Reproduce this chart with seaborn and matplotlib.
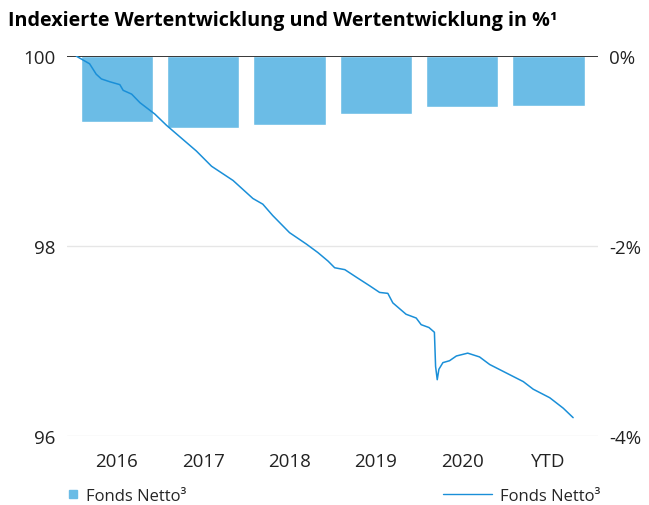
import pandas as pd
import numpy as np
import matplotlib.pyplot as plt
import seaborn as sns
from matplotlib.lines import Line2D

# --- Style ---
sns.set_style("white")
plt.rcParams['font.family'] = ['Open Sans', 'DejaVu Sans']

BAR_COLOR = '#6BBCE6'
LINE_COLOR = '#1A8FD8'
GRID_COLOR = '#E6E6E6'

# --- Data ---
years = ['2016', '2017', '2018', '2019', '2020', 'YTD']
yearly_perf = [-0.69, -0.76, -0.73, -0.61, -0.54, -0.52]

line_dates = [
    '2016-01-12', '2016-03-08', '2016-04-05', '2016-04-27', '2016-06-02',
    '2016-07-14', '2016-07-28', '2016-09-02', '2016-10-07', '2016-12-09',
    '2017-01-28', '2017-04-22', '2017-06-03', '2017-08-06', '2017-11-05',
    '2018-01-28', '2018-03-11', '2018-04-22', '2018-07-02', '2018-09-11',
    '2018-10-30', '2018-12-12', '2019-01-09', '2019-02-21', '2019-04-11',
    '2019-06-06', '2019-07-18', '2019-08-22', '2019-09-12', '2019-11-07',
    '2019-12-20', '2020-01-10', '2020-02-12', '2020-03-06', '2020-03-11',
    '2020-03-18', '2020-03-25', '2020-04-11', '2020-05-09', '2020-06-07',
    '2020-07-25', '2020-09-13', '2020-10-26', '2021-01-05', '2021-03-17',
    '2021-04-28', '2021-07-07', '2021-09-02', '2021-10-14',
]
line_index = [
    100.00, 99.92, 99.81, 99.76, 99.73,
    99.70, 99.64, 99.60, 99.51, 99.39,
    99.27, 99.09, 99.00, 98.84, 98.69,
    98.50, 98.44, 98.32, 98.14, 98.02,
    97.93, 97.84, 97.77, 97.75, 97.67,
    97.58, 97.51, 97.50, 97.40, 97.28,
    97.24, 97.17, 97.14, 97.09, 96.73,
    96.59, 96.70, 96.77, 96.79, 96.84,
    96.87, 96.83, 96.75, 96.66, 96.57,
    96.49, 96.40, 96.29, 96.19,
]

left_ticks = [96, 98, 100]
right_ticks = [-4, -2, 0]
right_labels = ['-4%', '-2%', '0%']


def main():
    df_bars = pd.DataFrame({'year': years, 'perf': yearly_perf})
    df_line = pd.DataFrame({'date': pd.to_datetime(line_dates), 'index': line_index})
    # one calendar year == one bar slot
    start = pd.Timestamp('2016-01-01')
    df_line['pos'] = (df_line['date'] - start).dt.days / 365.25 - 0.5

    fig = plt.figure(figsize=(6.49, 5.06), dpi=100)
    ax = fig.add_axes([0.103, 0.137, 0.818, 0.750])

    # bars on the percentage axis (right)
    for y in right_ticks[:-1]:
        ax.axhline(y, color=GRID_COLOR, lw=1, zorder=0)
    sns.barplot(data=df_bars, x='year', y='perf', color=BAR_COLOR,
                saturation=1, width=0.84, ax=ax, zorder=2)
    ax.axhline(0, color='black', lw=1.1, zorder=3)
    ax.set_ylim(-4, 0)
    ax.set_xlabel('')
    ax.set_ylabel('')

    # indexed line on the left axis
    ax2 = ax.twinx()
    sns.lineplot(data=df_line, x='pos', y='index', ax=ax2,
                 color=LINE_COLOR, lw=1.1)
    ax2.yaxis.tick_left()
    ax2.set_ylim(96, 100)
    ax2.set_yticks(left_ticks)
    ax2.set_xlabel('')
    ax2.set_ylabel('')
    ax2.set_xlim(-0.58, 5.57)

    # twinx moved the bar axis ticks to the left, put them back right
    ax.yaxis.tick_right()
    ax.set_yticks(right_ticks)
    ax.set_yticklabels(right_labels)

    for a in (ax, ax2):
        for s in a.spines.values():
            s.set_visible(False)
        a.tick_params(axis='both', length=0, labelsize=13.5, colors='#222222')
    ax.tick_params(axis='x', pad=12)
    ax.tick_params(axis='y', pad=8)
    ax2.tick_params(axis='y', pad=8)

    fig.text(0.012, 0.958, 'Indexierte Wertentwicklung und Wertentwicklung in %\u00b9',
             fontsize=14.2, fontweight='bold', va='center', ha='left', color='black')

    bar_handle = Line2D([], [], marker='s', color=BAR_COLOR, linestyle='None', markersize=6)
    line_handle = Line2D([], [], color=LINE_COLOR, lw=1)
    fig.legend([bar_handle], ['Fonds Netto\u00b3'], loc='center left',
               bbox_to_anchor=(0.102, 0.018), frameon=False, fontsize=12,
               handlelength=0.8, handletextpad=0.4, borderpad=0, borderaxespad=0)
    fig.legend([line_handle], ['Fonds Netto\u00b3'], loc='center right',
               bbox_to_anchor=(0.925, 0.018), frameon=False, fontsize=12,
               handlelength=2.9, handletextpad=0.5, borderpad=0, borderaxespad=0)

    fig.savefig('out.png', dpi=100)


if __name__ == "__main__":
    main()
